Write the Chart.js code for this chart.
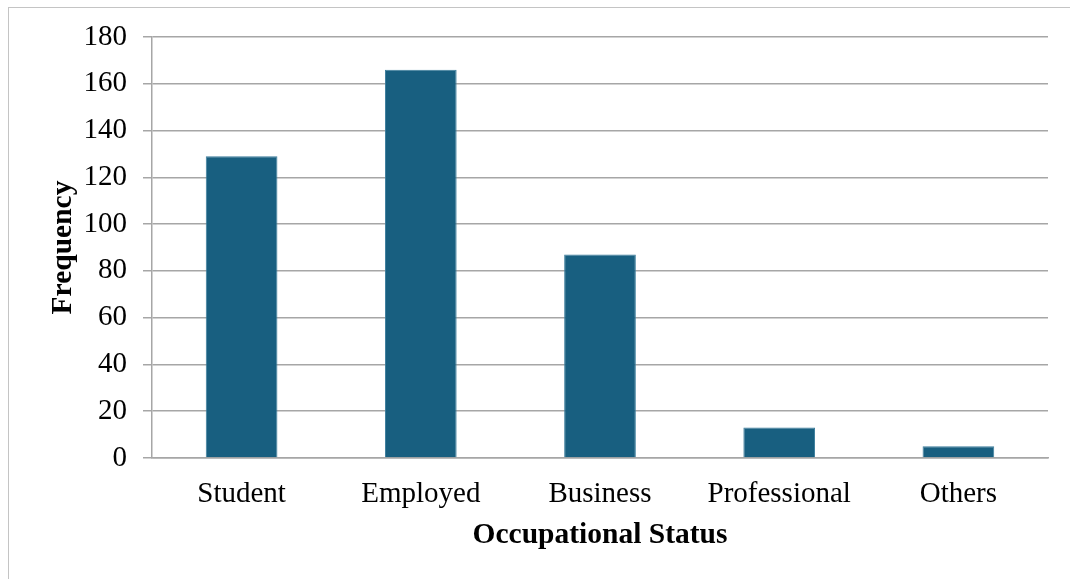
<!DOCTYPE html>
<html>
<head>
<meta charset="utf-8">
<script src="https://cdn.jsdelivr.net/npm/chart.js@4/dist/chart.umd.min.js"></script>
<style>
  html, body { margin: 0; padding: 0; background: #fff; }
  #wrap { position: relative; width: 1070px; height: 579px; }
  #frame {
    position: absolute; left: 8px; top: 7px; right: 0; bottom: 0;
    border-left: 1px solid #c4c4c4; border-top: 1px solid #c4c4c4;
  }
  canvas { position: absolute; left: 0; top: 0; }
</style>
</head>
<body>
<div id="wrap">
  <div id="frame"></div>
  <canvas id="occChart" width="1070" height="579"></canvas>
</div>
<script>
// occupational status counts
const categories = ["Student", "Employed", "Business", "Professional", "Others"];
const frequency = [129, 166, 87, 13, 5];
const yMin = 0;
const yMax = 180;
const yStep = 20;

const serif = "'Liberation Serif', 'Times New Roman', serif";

new Chart(document.getElementById("occChart"), {
  type: "bar",
  data: {
    labels: categories,
    datasets: [{
      label: "Frequency",
      data: frequency,
      backgroundColor: "#185f80",
      borderColor: "#3b7d9c",
      borderWidth: 1,
      barPercentage: 0.4,
      categoryPercentage: 1.0
    }]
  },
  options: {
    responsive: false,
    animation: false,
    layout: { padding: { left: 0, top: 37, right: 22, bottom: 0 } },
    plugins: {
      legend: { display: false },
      tooltip: { enabled: false }
    },
    scales: {
      x: {
        grid: { display: false, drawTicks: false },
        border: { display: true, color: "#a6a6a6", width: 1.5 },
        ticks: {
          color: "#000",
          font: { family: serif, size: 29 },
          padding: 19
        },
        title: {
          display: true,
          text: "Occupational Status",
          color: "#000",
          font: { family: serif, size: 29.5, weight: "bold" },
          padding: { top: 0, bottom: 26 }
        },
        afterFit: function (scale) { scale.height = 121; }
      },
      y: {
        min: yMin,
        max: yMax,
        ticks: {
          stepSize: yStep,
          color: "#000",
          font: { family: serif, size: 29 },
          padding: 16
        },
        grid: { color: "#a6a6a6", lineWidth: 1.5, tickLength: 9 },
        border: { display: true, color: "#a6a6a6", width: 1.5 },
        title: {
          display: true,
          text: "Frequency",
          color: "#000",
          font: { family: serif, size: 29.5, weight: "bold" },
          padding: { top: 46, bottom: 0 }
        },
        afterFit: function (scale) { scale.width = 152; }
      }
    }
  }
});
</script>
</body>
</html>
